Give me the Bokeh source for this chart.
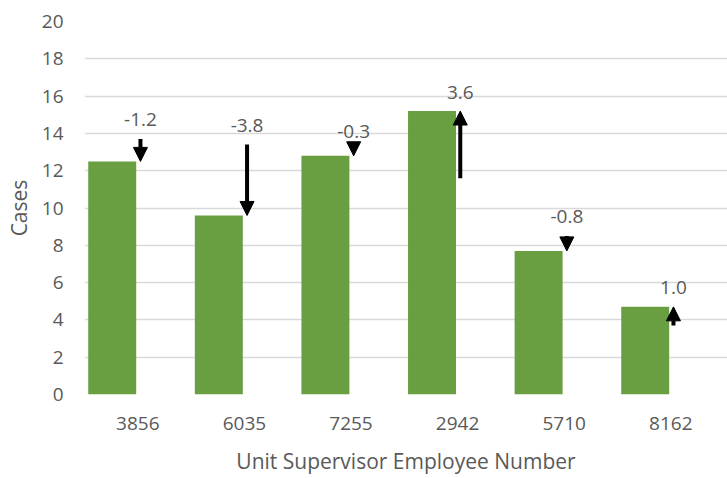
from bokeh.plotting import figure
from bokeh.models import Arrow, NormalHead, FixedTicker, ColumnDataSource, Range1d
from bokeh.core.properties import value
from bokeh.embed import file_html
from bokeh.resources import INLINE

supervisors = ["3856", "6035", "7255", "2942", "5710", "8162"]
cases = [12.5, 9.6, 12.8, 15.2, 7.7, 4.7]
change = [-1.2, -3.8, -0.3, 3.6, -0.8, 1.0]
y_ticks = [0, 2, 4, 6, 8, 10, 12, 14, 16, 18, 20]

FONT = "Open Sans"
TXT = "#595959"
GREEN = "#6a9f41"

idx = list(range(len(supervisors)))
prev = [round(c - d, 2) for c, d in zip(cases, change)]
upper = [max(a, b) for a, b in zip(cases, prev)]
labels = [f"{d:.1f}" for d in change]

src = ColumnDataSource(dict(
    x=idx, bar_x=[i - 0.24 for i in idx], arrow_x=[i + 0.025 for i in idx],
    cases=cases, prev=prev, upper=upper, label=labels))

p = figure(width=727, height=478, output_backend="svg", toolbar_location=None,
           x_range=Range1d(-0.5, 5.532), y_range=Range1d(0, 20),
           min_border_left=84, min_border_right=0, min_border_top=21, min_border_bottom=84)

p.vbar(x="bar_x", top="cases", width=0.45, source=src, fill_color=GREEN, line_color=None)

p.add_layout(Arrow(end=NormalHead(size=14, fill_color="black", line_color="black", line_width=1),
                   x_start="arrow_x", y_start="prev", x_end="arrow_x", y_end="cases",
                   line_width=4, line_color="black", source=src))

p.text(x="arrow_x", y="upper", text="label", source=src, text_font=value(FONT),
       text_font_size="19px", text_color=TXT, text_align="center", text_baseline="middle",
       y_offset=-19)

p.xaxis.ticker = FixedTicker(ticks=idx)
p.xaxis.major_label_overrides = {i: s for i, s in zip(idx, supervisors)}
p.yaxis.ticker = FixedTicker(ticks=y_ticks)

for ax in (p.xaxis, p.yaxis):
    ax.axis_line_color = None
    ax.major_tick_line_color = None
    ax.minor_tick_line_color = None
    ax.major_tick_out = 0
    ax.major_tick_in = 0
    ax.major_label_text_font = FONT
    ax.major_label_text_font_size = "19px"
    ax.major_label_text_color = TXT
    ax.axis_label_text_font = FONT
    ax.axis_label_text_font_size = "21px"
    ax.axis_label_text_font_style = "normal"
    ax.axis_label_text_color = TXT

p.xaxis.axis_label = "Unit Supervisor Employee Number"
p.yaxis.axis_label = "Cases"
p.xaxis.major_label_standoff = 22
p.xaxis.axis_label_standoff = 14
p.yaxis.major_label_standoff = 21
p.yaxis.axis_label_standoff = 6

p.xgrid.grid_line_color = None
p.ygrid.grid_line_color = "#d9d9d9"
p.ygrid.grid_line_width = 1.5
p.outline_line_color = None
p.background_fill_color = "white"
p.border_fill_color = "white"

open("out.html", "w").write(file_html(p, INLINE))
